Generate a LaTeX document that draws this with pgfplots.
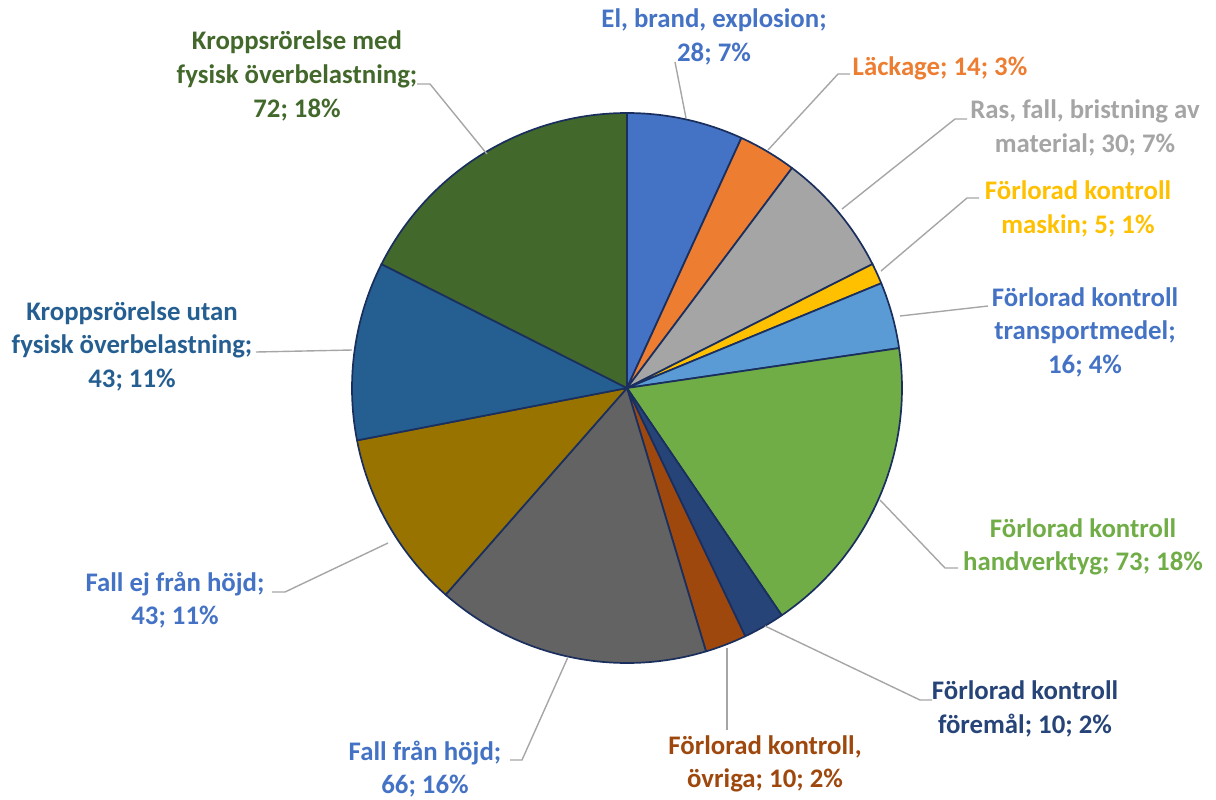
\documentclass[border=0pt]{standalone}
\usepackage{pgfplots}
\usepackage{pgfplotstable}
\pgfplotsset{compat=1.18}
\usepackage{fontspec}
\setmainfont{Carlito}

\definecolor{cEl}{HTML}{4472C4}
\definecolor{cLk}{HTML}{ED7D31}
\definecolor{cRas}{HTML}{A5A5A5}
\definecolor{cMas}{HTML}{FFC000}
\definecolor{cTra}{HTML}{5B9BD5}
\definecolor{cHan}{HTML}{70AD47}
\definecolor{cFor}{HTML}{264478}
\definecolor{cOvr}{HTML}{9E480E}
\definecolor{cFfh}{HTML}{636363}
\definecolor{cFej}{HTML}{997300}
\definecolor{cUta}{HTML}{255E91}
\definecolor{cMed}{HTML}{43682B}
\definecolor{edge}{HTML}{1A2F5E}
\definecolor{leadc}{HTML}{A6A6A6}

\tikzset{
  lab/.style={font=\fontsize{13.4}{16.8}\selectfont\bfseries, align=center, inner sep=0pt},
  leader/.style={draw=leadc, line width=0.7pt},
}

% clockwise from 12 o'clock
\pgfplotstableread{
value color
28 cEl
14 cLk
30 cRas
5  cMas
16 cTra
73 cHan
10 cFor
10 cOvr
66 cFfh
43 cFej
43 cUta
72 cMed
}\piedata

\begin{document}
\begin{tikzpicture}
\begin{axis}[
  width=608pt, height=399.5pt, scale only axis,
  xmin=0, xmax=1216, ymin=0, ymax=799, y dir=reverse,
  hide axis, clip=false,
]
% keep the whole canvas in the bounding box
\path (axis cs:0,0) rectangle (axis cs:1216,799);

\pgfplotstablegetrowsof{\piedata}
\pgfmathtruncatemacro\nrows{\pgfplotsretval-1}
\def\total{0}
\pgfplotsforeachungrouped \i in {0,...,\nrows}{%
  \pgfplotstablegetelem{\i}{value}\of\piedata
  \pgfmathsetmacro\total{\total+\pgfplotsretval}%
}
\def\cum{0}
\pgfplotsforeachungrouped \i in {0,...,\nrows}{%
  \pgfplotstablegetelem{\i}{value}\of\piedata \let\v\pgfplotsretval
  \pgfplotstablegetelem{\i}{color}\of\piedata \let\c\pgfplotsretval
  \pgfmathsetmacro\sa{90-\cum/\total*360}%
  \pgfmathsetmacro\ea{90-(\cum+\v)/\total*360}%
  \edef\temp{\noexpand\fill[fill=\c, draw=edge, line width=0.85pt, line join=round]
    (axis cs:627,388) -- ++(\sa:137.5pt) arc[start angle=\sa, end angle=\ea, radius=137.5pt] -- cycle;}%
  \temp
  \pgfmathsetmacro\cum{\cum+\v}%
}

% leader lines
\draw[leader] (axis cs:675,62) -- (axis cs:686,118);
\draw[leader] (axis cs:850,74) -- (axis cs:838,74) -- (axis cs:768,150);
\draw[leader] (axis cs:967,119) -- (axis cs:955,119) -- (axis cs:842,209);
\draw[leader] (axis cs:979,198) -- (axis cs:967,198) -- (axis cs:881,271);
\draw[leader] (axis cs:988,306) -- (axis cs:900,316);
\draw[leader] (axis cs:880,500) -- (axis cs:945,568) -- (axis cs:958,568);
\draw[leader] (axis cs:765,626) -- (axis cs:920,700) -- (axis cs:932,700);
\draw[leader] (axis cs:727,648) -- (axis cs:727,730);
\draw[leader] (axis cs:568,657) -- (axis cs:522,760) -- (axis cs:510,760);
\draw[leader] (axis cs:388,543) -- (axis cs:285,592) -- (axis cs:272,592);
\draw[leader] (axis cs:352,350) -- (axis cs:256,352);
\draw[leader] (axis cs:487,154) -- (axis cs:430,84) -- (axis cs:417,84);

% data labels
\node[lab, text=cEl]  at (axis cs:714,37)  {El, brand, explosion;\\28; 7\%};
\node[lab, text=cLk]  at (axis cs:940,68)  {Läckage; 14; 3\%};
\node[lab, text=cRas] at (axis cs:1085,128) {Ras, fall, bristning av\\material; 30; 7\%};
\node[lab, text=cMas] at (axis cs:1078,209) {Förlorad kontroll\\maskin; 5; 1\%};
\node[lab, text=cEl]  at (axis cs:1085,332) {Förlorad kontroll\\transportmedel;\\16; 4\%};
\node[lab, text=cHan] at (axis cs:1083,547) {Förlorad kontroll\\handverktyg; 73; 18\%};
\node[lab, text=cFor] at (axis cs:1025,709) {Förlorad kontroll\\föremål; 10; 2\%};
\node[lab, text=cOvr] at (axis cs:765,764) {Förlorad kontroll,\\övriga; 10; 2\%};
\node[lab, text=cEl]  at (axis cs:425,769) {Fall från höjd;\\66; 16\%};
\node[lab, text=cEl]  at (axis cs:175,600) {Fall ej från höjd;\\43; 11\%};
\node[lab, text=cUta] at (axis cs:132,346) {Kroppsrörelse utan\\fysisk överbelastning;\\43; 11\%};
\node[lab, text=cMed] at (axis cs:297,76)  {Kroppsrörelse med\\fysisk överbelastning;\\72; 18\%};
\end{axis}
\end{tikzpicture}
\end{document}
